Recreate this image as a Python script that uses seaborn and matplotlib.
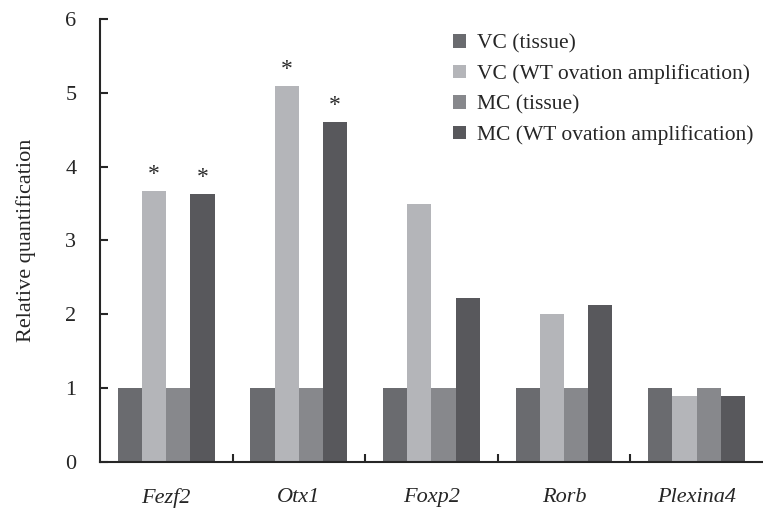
import numpy as np
import pandas as pd
import matplotlib.pyplot as plt
import seaborn as sns
from matplotlib.ticker import FixedLocator

genes = ['Fezf2', 'Otx1', 'Foxp2', 'Rorb', 'Plexina4']
groups = ['VC (tissue)', 'VC (WT ovation amplification)',
          'MC (tissue)', 'MC (WT ovation amplification)']
vc_tissue = [1.0, 1.0, 1.0, 1.0, 1.0]
vc_wt = [3.67, 5.1, 3.5, 2.0, 0.89]
mc_tissue = [1.0, 1.0, 1.0, 1.0, 1.0]
mc_wt = [3.63, 4.6, 2.22, 2.12, 0.89]
# (group, gene) pairs marked with *
stars = [(1, 0), (3, 0), (1, 1), (3, 1)]

colors = ['#6a6b6f', '#b4b5b9', '#87888c', '#58585c']

df = pd.DataFrame({
    'gene': genes * 4,
    'group': np.repeat(groups, len(genes)),
    'value': vc_tissue + vc_wt + mc_tissue + mc_wt,
})

sns.set_style('ticks')
plt.rcParams['font.family'] = 'serif'
plt.rcParams['font.serif'] = ['Liberation Serif', 'DejaVu Serif']

fig = plt.figure(figsize=(7.63, 5.16), dpi=100)
ax = fig.add_axes([0.131, 0.105, 0.869, 0.858])

sns.barplot(data=df, x='gene', y='value', hue='group', order=genes,
            hue_order=groups, palette=colors, width=0.73, saturation=1,
            errorbar=None, ax=ax, linewidth=0)

for g, k in stars:
    bar = ax.containers[g][k]
    ax.text(bar.get_x() + bar.get_width() / 2, bar.get_height() + 0.08, '*',
            ha='center', va='bottom', fontsize=17, color='#2a2a2a')

ax.set_ylim(0, 6)
ax.set_xlim(-0.5, 4.5)
ax.set_yticks(range(7))
ax.set_ylabel('Relative quantification', fontsize=16, labelpad=21)
ax.set_xlabel('')
ax.set_xticks(range(5))
ax.set_xticklabels(genes, fontsize=16, style='italic')
ax.tick_params(axis='x', length=0, pad=19)
ax.xaxis.set_minor_locator(FixedLocator([0.5, 1.5, 2.5, 3.5]))
ax.tick_params(axis='x', which='minor', direction='in', length=6, width=1.5)
ax.tick_params(axis='y', direction='in', length=6, width=1.5,
               labelsize=16, pad=17)
for s in ['top', 'right']:
    ax.spines[s].set_visible(False)
for s in ['left', 'bottom']:
    ax.spines[s].set_linewidth(1.5)

ax.legend(loc='upper right', bbox_to_anchor=(1.015, 1.01), frameon=False,
          fontsize=15.5, handlelength=0.6, handleheight=0.6,
          handletextpad=0.5, labelspacing=0.5)

fig.savefig('out.png', dpi=100)
